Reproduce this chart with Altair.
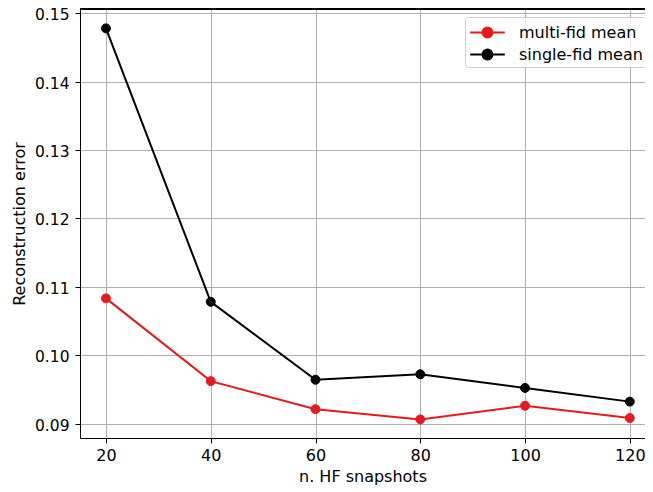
import altair as alt
import pandas as pd

snapshots = [20, 40, 60, 80, 100, 120]
multi_fid = [0.1083, 0.0962, 0.0921, 0.0906, 0.0926, 0.0908]
single_fid = [0.1478, 0.1078, 0.0964, 0.0972, 0.0952, 0.0932]
series_names = ["multi-fid mean", "single-fid mean"]
series_colors = ["#e41a1c", "#000000"]

rows = []
for n, v in zip(snapshots, multi_fid):
    rows.append({"n": n, "err": v, "series": series_names[0]})
for n, v in zip(snapshots, single_fid):
    rows.append({"n": n, "err": v, "series": series_names[1]})
df = pd.DataFrame(rows)

FONT = "DejaVu Sans"
FS = 16

x = alt.X("n:Q", title="n. HF snapshots",
          scale=alt.Scale(domain=[15.04, 122.9], nice=False, zero=False),
          axis=alt.Axis(values=snapshots, format="d", grid=True))
y = alt.Y("err:Q", title="Reconstruction error",
          scale=alt.Scale(domain=[0.08788, 0.15063], nice=False, zero=False),
          axis=alt.Axis(values=[0.09, 0.10, 0.11, 0.12, 0.13, 0.14, 0.15], format=".2f", grid=True))
color_scale = alt.Scale(domain=series_names, range=series_colors)

legend_path = "M-1.5,0H1.5M-0.43,0A0.43,0.43 0 1,0 0.43,0A0.43,0.43 0 1,0 -0.43,0Z"

leg = alt.Legend(title=None, orient="none", legendX=385, legendY=8,
                 symbolType=legend_path, symbolSize=529,
                 symbolStrokeWidth=2, labelFontSize=FS,
                 labelFont=FONT, labelColor="black",
                 padding=3, rowPadding=0, symbolOffset=7,
                 strokeColor="#cccccc", fillColor="rgba(255,255,255,0.8)",
                 cornerRadius=3, labelOffset=19)

lines = alt.Chart(df).mark_line(strokeWidth=2).encode(
    x=x, y=y,
    stroke=alt.Stroke("series:N", scale=color_scale, legend=leg),
    detail="series:N",
)

points = alt.Chart(df).mark_point(filled=True, size=80, opacity=1, strokeWidth=1).encode(
    x=x, y=y,
    fill=alt.Fill("series:N", scale=color_scale, legend=leg),
    stroke=alt.Stroke("series:N", scale=color_scale, legend=leg),
)

top_rule = alt.Chart(df).mark_rule(color="black", strokeWidth=1).encode(
    y=alt.value(0), x=alt.value(0), x2=alt.value(565)
)

chart = alt.layer(lines, points, top_rule).properties(
    width=565, height=429,
    autosize=alt.AutoSizeParams(type="none"),
    padding={"left": 72, "top": 1, "right": 0, "bottom": 52},
).configure_view(stroke=None).configure_axis(
    labelFont=FONT, titleFont=FONT, labelFontSize=FS, titleFontSize=FS,
    labelColor="black", titleColor="black", titleFontWeight="normal",
    gridColor="#b0b0b0", gridWidth=1, domainColor="black", domainWidth=1,
    tickColor="black", tickSize=5, tickWidth=1,
).configure_axisX(labelPadding=4, titlePadding=5).configure_axisY(
    labelPadding=6, titlePadding=7, labelOffset=1.5, labelFontSize=15.5)

chart.save("out.html", embed_options={"renderer": "svg", "actions": False})
